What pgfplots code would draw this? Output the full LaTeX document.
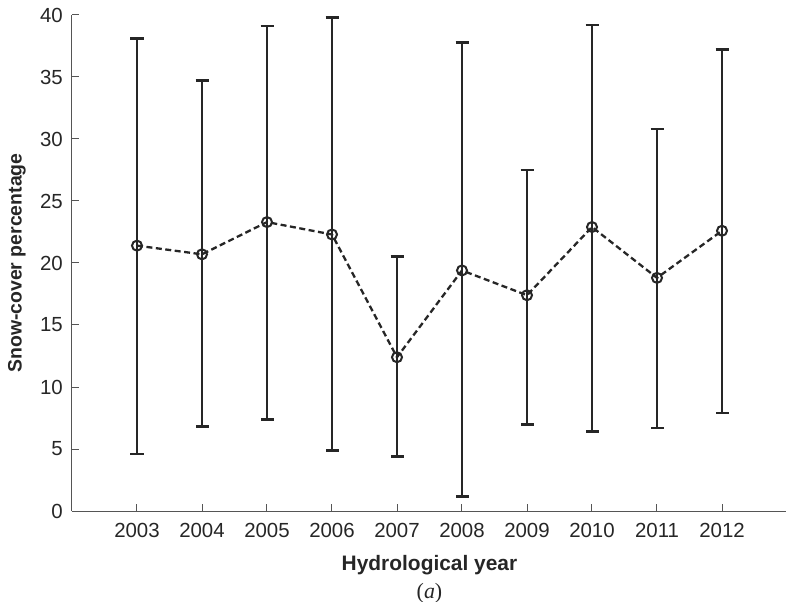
\documentclass[border=0pt]{standalone}
\usepackage{pgfplots}
\pgfplotsset{compat=1.18}
\usepackage{pgfplotstable}
\usepackage{fontspec}
\setmainfont{Liberation Sans}
\newfontfamily\seriffont{Liberation Serif}
\definecolor{ink}{HTML}{262626}
\definecolor{axisgray}{HTML}{555555}

\pgfplotstableread{
x     y     ep    em
2003  21.4  16.7  16.8
2004  20.7  14.0  13.9
2005  23.3  15.8  15.9
2006  22.3  17.5  17.4
2007  12.4  8.1   8.0
2008  19.4  18.4  18.25
2009  17.4  10.1  10.4
2010  22.9  16.3  16.5
2011  18.8  12.0  12.1
2012  22.6  14.6  14.7
}\snowdata

\begin{document}
\begin{tikzpicture}
\begin{axis}[
  at={(0,0)}, anchor=south west,
  scale only axis,
  width=715bp, height=496bp,
  xmin=2002, xmax=2013,
  ymin=0, ymax=40,
  axis x line=bottom, axis y line=left,
  axis line style={-, axisgray, line width=1bp},
  tick style={axisgray, line width=1bp},
  tick align=inside,
  major tick length=7bp,
  xtick={2002,2003,...,2013},
  xticklabels={{},2003,2004,2005,2006,2007,2008,2009,2010,2011,2012,{}},
  ytick={0,5,...,40},
  /pgf/number format/assume math mode=true,
  ticklabel style={font=\fontsize{20.5}{24}\selectfont, text=ink},
  yticklabel style={anchor=east, inner sep=0pt, xshift=-9bp},
  xticklabel style={anchor=north, inner sep=0pt, yshift=-12bp},
  xlabel={Hydrological year},
  ylabel={Snow-cover percentage},
  xlabel style={font=\fontsize{21}{24}\selectfont\bfseries, text=ink, at={(axis description cs:0.5,-0.109)}, anchor=center},
  ylabel style={font=\fontsize{19.5}{24}\selectfont\bfseries, text=ink, at={(axis description cs:-0.077,0.5)}, anchor=center},
  clip=false,
]
\addplot[
  ink, line width=2.3bp, dash pattern=on 6bp off 3.5bp,
  mark=o, mark size=5bp, mark options={solid, line width=2bp},
  error bars/.cd,
    y dir=both, y explicit,
    error bar style={solid, line width=2.4bp, ink},
    error mark options={rotate=90, mark size=6.5bp, line width=2.6bp, ink, solid},
] table[x=x, y=y, y error plus=ep, y error minus=em] {\snowdata};
\node[font=\fontsize{22}{24}\selectfont\seriffont, text=ink, anchor=center]
  at (axis description cs:0.5,-0.165) {(\textit{a})};
\end{axis}
\pgfresetboundingbox
\path[use as bounding box] (-72bp,-91bp) rectangle (714bp,511bp);
\end{tikzpicture}
\end{document}
